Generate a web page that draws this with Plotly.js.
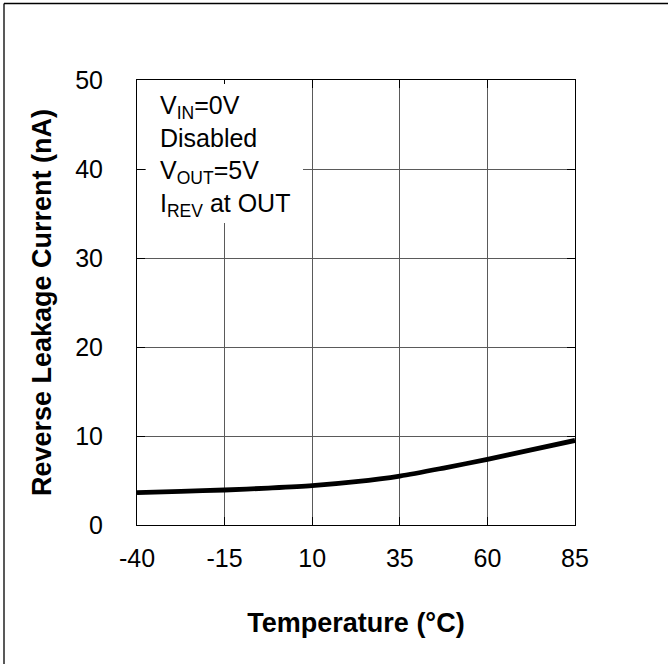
<!DOCTYPE html>
<html>
<head>
<meta charset="utf-8">
<script src="https://cdn.plot.ly/plotly-3.0.1.min.js"></script>
<style>
  html, body { margin: 0; padding: 0; background: #fff; }
  #chart { width: 668px; height: 664px; }
</style>
</head>
<body>
<div id="chart"></div>
<script>
// Data
const temperatureC = [-40, -27.5, -15, -2.5, 10, 22.5, 35, 47.5, 60, 72.5, 85];
const leakageNA = [3.63, 3.78, 3.93, 4.15, 4.42, 4.87, 5.5, 6.4, 7.38, 8.45, 9.5];
const xTicks = [-40, -15, 10, 35, 60, 85];
const yTicks = [0, 10, 20, 30, 40, 50];
const conditionLines = ["V<sub>IN</sub>=0V", "Disabled", "V<sub>OUT</sub>=5V", "I<sub>REV</sub> at OUT"];

const FONT = "Liberation Sans, Arial, Helvetica, sans-serif";
const PW = 438, PH = 445, PL = 137, PB = 525;
const px = v => (v - PL) / PW;      // pixel x -> paper
const py = v => (PB - v) / PH;      // pixel y -> paper

const trace = {
  x: temperatureC,
  y: leakageNA,
  type: "scatter",
  mode: "lines",
  line: { color: "#000", width: 4.8, shape: "spline", smoothing: 0.8 },
  hoverinfo: "skip",
  showlegend: false
};

const axisCommon = {
  showline: true, linecolor: "#000", linewidth: 1, mirror: "ticks",
  ticks: "inside", ticklen: 8, tickcolor: "#000", tickwidth: 1,
  showgrid: true, gridcolor: "#5a5a5a", gridwidth: 1,
  zeroline: false, automargin: false,
  tickfont: { family: FONT, size: 25, color: "#000" }
};

const layout = {
  width: 668, height: 664,
  margin: { l: 137, r: 93, t: 80, b: 139, pad: 0 },
  paper_bgcolor: "#fff", plot_bgcolor: "#fff",
  font: { family: FONT, color: "#000" },
  xaxis: Object.assign({}, axisCommon, {
    range: [-40, 85], tickmode: "array", tickvals: xTicks, ticktext: xTicks.map(String),
    ticklabelstandoff: 11,
    title: { text: "Temperature (°C)", font: { family: FONT, size: 27, color: "#000", weight: "bold" }, standoff: 42 }
  }),
  yaxis: Object.assign({}, axisCommon, {
    range: [0, 50], tickmode: "array", tickvals: yTicks, ticktext: yTicks.map(String),
    ticklabelstandoff: 28,
    title: { text: "Reverse Leakage Current (nA)", font: { family: FONT, size: 27, color: "#000", weight: "bold" }, standoff: 15 }
  }),
  annotations: [{
    xref: "paper", yref: "paper",
    x: px(153), y: py(84),
    xanchor: "left", yanchor: "top",
    text: conditionLines.join("<br>"),
    align: "left", valign: "top",
    showarrow: false,
    borderpad: 6,
    font: { family: FONT, size: 25, color: "#000" }
  }],
  shapes: [
    { type: "rect", xref: "paper", yref: "paper", layer: "above",
      x0: px(146), x1: px(303), y0: py(223), y1: py(84),
      fillcolor: "#fff", line: { width: 0 } },
    { type: "line", xref: "paper", yref: "paper", x0: px(4), x1: px(4), y0: -0.35, y1: py(3.5), line: { color: "#222", width: 1.5 } },
    { type: "line", xref: "paper", yref: "paper", x0: px(4), x1: 1.25, y0: py(3.5), y1: py(3.5), line: { color: "#000", width: 1.5 } }
  ]
};

Plotly.newPlot("chart", [trace], layout, { staticPlot: true, displayModeBar: false });
</script>
</body>
</html>
